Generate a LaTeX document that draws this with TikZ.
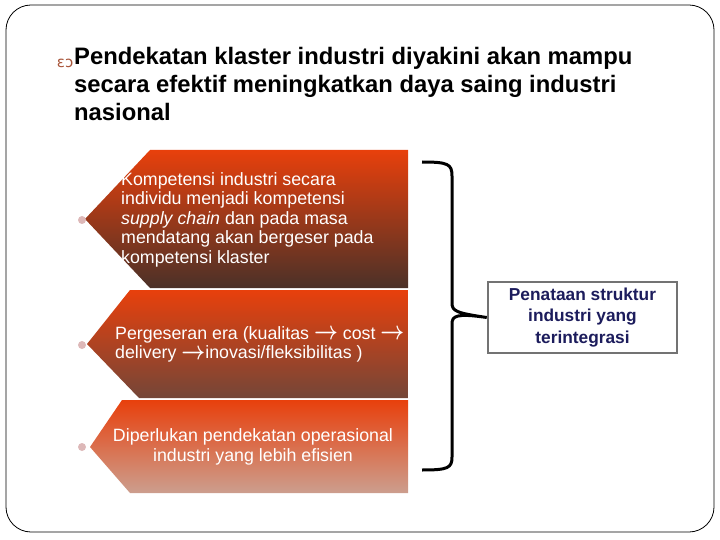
\documentclass[tikz,border=0pt]{standalone}
\usepackage{fontspec}
\usepackage{graphicx}
\setmainfont{Liberation Sans}
\newfontfamily\dejavu{DejaVu Sans}
\newcommand{\rarr}{\raisebox{-0.6pt}{\scalebox{1.2}[1.5]{\boldmath$\rightarrow$}}}
\definecolor{topred}{HTML}{E8400C}
\definecolor{botA}{HTML}{4B3128}
\definecolor{botB}{HTML}{744638}
\definecolor{botC}{HTML}{CC9E8E}
\definecolor{dotc}{HTML}{DDB8B8}
\definecolor{navy}{HTML}{1C1C5C}
\definecolor{bulc}{HTML}{A8553A}
\begin{document}
\begin{tikzpicture}[x=1pt,y=-1pt,
  shapetxt/.style={text=white,font=\fontsize{17.8}{19.5}\selectfont,align=left,inner sep=0pt},
  dotmark/.style={circle,fill=dotc,minimum size=8pt,inner sep=0pt},
  resbox/.style={draw=gray!90!black,line width=2.5pt,fill=white,text=navy,
    font=\bfseries\fontsize{17.3}{21.5}\selectfont,align=center,
    minimum width=189pt,minimum height=71pt,inner sep=0pt}]
\useasboundingbox (0,0) rectangle (720,540);
\draw[black,line width=0.8pt,rounded corners=25pt] (6,5) rectangle (714,532);
% title
\node[anchor=east,inner sep=0pt,text=bulc,font=\dejavu\fontsize{15}{15}\selectfont] (bul) at (73.5,63) {ɛɔ};
\node[anchor=north west,inner sep=0pt,align=left,font=\bfseries\fontsize{23.8}{28}\selectfont] (title) at (74,47)
 {Pendekatan klaster industri diyakini akan mampu\\secara efektif meningkatkan daya saing industri\\nasional};
% chevrons
\shade[top color=topred,bottom color=botA] (150,150) -- (408,150) -- (408,288) -- (150,288) -- (85,219) -- cycle;
\shade[top color=topred,bottom color=botB] (130,290) -- (408,290) -- (408,398) -- (139,398) -- (87,344) -- cycle;
\shade[top color=topred,bottom color=botC] (122,400) -- (408,400) -- (408,493) -- (130,493) -- (90,447) -- cycle;
\node[dotmark] (d1) at (82,220) {};
\node[dotmark] (d2) at (82,345) {};
\node[dotmark] (d3) at (82,447) {};
\node[shapetxt,anchor=west] (t1) at (121,219.5)
 {Kompetensi industri secara\\individu menjadi kompetensi\\\textit{supply chain} dan pada masa\\mendatang akan bergeser pada\\kompetensi klaster};
\node[shapetxt,anchor=west] (t2) at (115,344.5)
 {Pergeseran era (kualitas \rarr{} cost \rarr\\delivery \rarr{}inovasi/fleksibilitas )};
\node[shapetxt,align=center] (t3) at (253,447)
 {Diperlukan pendekatan operasional\\industri yang lebih efisien};
% result box
\node[resbox] (res) at (582.5,317.5) {Penataan struktur\\industri yang\\terintegrasi};
\coordinate (tip) at (res.west);
\coordinate (bt) at (422,162);
\coordinate (bb) at (422,470);
\draw[line width=3pt] (bt) .. controls (448,162) and (452,164) .. (452,176) -- (452,303)
  .. controls (452,311) and (456,313) .. (tip)
  (tip) .. controls (456,313) and (452,316) .. (452,324) -- (452,457)
  .. controls (452,468) and (448,470) .. (bb);
\end{tikzpicture}
\end{document}
